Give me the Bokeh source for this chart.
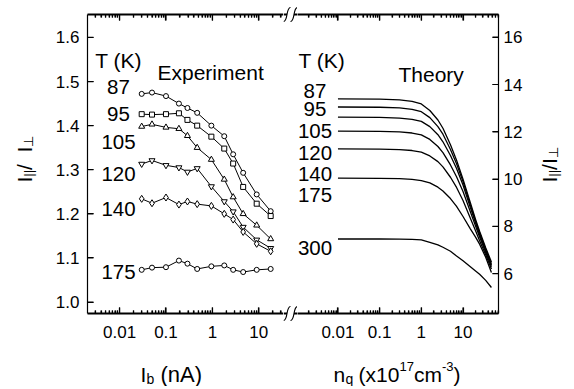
from math import pi, log10
from bokeh.plotting import figure
from bokeh.layouts import row, column
from bokeh.models import (Range1d, LogAxis, FixedTicker, CustomJSTickFormatter,
                          PrintfTickFormatter, Label)
from bokeh.embed import file_html
from bokeh.resources import INLINE

FONT = "Liberation Sans"

# ---------------- data ----------------
# Experiment: beam current I_b (nA) and intensity ratio for each temperature
ib = [0.03, 0.05, 0.1, 0.19, 0.29, 0.47, 0.95, 1.8, 2.8, 4.6, 9.0, 18.0]
exp_87 = [1.472, 1.475, 1.467, 1.450, 1.440, 1.429, 1.400, 1.376, 1.335, 1.293, 1.244, 1.206]
exp_95 = [1.426, 1.425, 1.426, 1.428, 1.413, 1.400, 1.375, 1.348, 1.314, 1.261, 1.223, 1.195]
exp_105 = [1.398, 1.403, 1.396, 1.393, 1.377, 1.350, 1.323, 1.278, 1.238, 1.200, 1.174, 1.143]
exp_120 = [1.313, 1.321, 1.310, 1.305, 1.295, 1.303, 1.262, 1.228, 1.205, 1.170, 1.141, 1.122]
exp_140 = [1.234, 1.224, 1.237, 1.221, 1.228, 1.222, 1.218, 1.200, 1.187, 1.159, 1.132, 1.115]
exp_175 = [1.073, 1.078, 1.079, 1.094, 1.087, 1.075, 1.081, 1.083, 1.073, 1.068, 1.073, 1.075]
exp_temps = ["87", "95", "105", "120", "140", "175"]
exp_markers = ["circle", "square", "triangle", "inverted_triangle", "diamond", "circle"]

# Theory: carrier density n_q (x1e17 cm^-3) and ratio for each temperature
nq = [0.01, 0.1, 0.3, 0.6, 1.0, 1.6, 2.5, 3.3, 5.0, 7.0, 10.0, 15.0, 20.0, 25.0, 35.0, 48.0]
th_87 = [13.39, 13.38, 13.35, 13.29, 13.18, 12.90, 12.50, 12.15, 11.45, 10.80, 10.00, 9.00, 8.30, 7.80, 7.10, 6.50]
th_95 = [13.05, 13.04, 13.01, 12.95, 12.85, 12.60, 12.22, 11.90, 11.25, 10.65, 9.90, 8.90, 8.22, 7.72, 7.02, 6.42]
th_105 = [12.62, 12.61, 12.58, 12.53, 12.44, 12.22, 11.88, 11.58, 11.00, 10.45, 9.75, 8.80, 8.15, 7.65, 6.97, 6.36]
th_120 = [12.03, 12.02, 12.00, 11.95, 11.87, 11.68, 11.38, 11.12, 10.60, 10.10, 9.48, 8.62, 8.02, 7.55, 6.90, 6.30]
th_140 = [11.28, 11.27, 11.25, 11.21, 11.14, 10.98, 10.74, 10.52, 10.08, 9.65, 9.10, 8.35, 7.82, 7.40, 6.80, 6.20]
th_175 = [10.04, 10.03, 10.02, 9.99, 9.94, 9.84, 9.66, 9.50, 9.18, 8.85, 8.42, 7.90, 7.55, 7.25, 6.70, 6.05]
th_300 = [7.47, 7.47, 7.46, 7.45, 7.43, 7.33, 7.22, 7.12, 6.95, 6.75, 6.55, 6.30, 6.12, 5.98, 5.72, 5.42]
th_temps = ["87", "95", "105", "120", "140", "175", "300"]

x_ticks = [0.01, 0.1, 1, 10]
left_y_ticks = [1.0, 1.1, 1.2, 1.3, 1.4, 1.5, 1.6]
right_y_ticks = [6, 8, 10, 12, 14, 16]

# ---------------- layout (page pixels) ----------------
H = 350            # main row height
HX = 36            # x-label strip height
FT, FB = 14, 313   # frame top / bottom
YL_W = 44
P1_L, P1_R = 87, 283
P2_L, P2_R = 297, 498
YR_L = 530
TOTAL_W = 574

minor = [k * 10.0 ** e for e in range(-4, 2) for k in range(2, 10)]
num_fmt = CustomJSTickFormatter(code="return parseFloat(tick.toPrecision(6)).toString();")
blank_fmt = CustomJSTickFormatter(code="return '';")


def no_align(p):
    try:
        p.frame_align = False
    except Exception:
        pass


def style_axis(ax, horizontal, minor_ticks=True):
    ax.axis_line_color = "black"
    ax.axis_line_width = 2 if horizontal else 1.2
    ax.major_tick_line_color = "black"
    ax.major_tick_line_width = 1.2
    ax.major_tick_in = 6
    ax.major_tick_out = 0
    if minor_ticks:
        ax.minor_tick_line_color = "black"
        ax.minor_tick_line_width = 1.2
        ax.minor_tick_in = 3
        ax.minor_tick_out = 0
    else:
        ax.minor_tick_line_color = None
    ax.major_label_text_font = FONT
    ax.major_label_text_font_size = "17px"
    ax.major_label_text_color = "black"


def bare_fig(width, height, xr=None, yr=None):
    p = figure(width=width, height=height, x_range=xr or Range1d(0, 1), y_range=yr or Range1d(0, 1),
               x_axis_location=None, y_axis_location=None, output_backend="svg",
               toolbar_location=None, min_border_left=0, min_border_right=0,
               min_border_top=0, min_border_bottom=0)
    p.xgrid.visible = False
    p.ygrid.visible = False
    p.outline_line_color = None
    no_align(p)
    return p


def make_fig(width, xr, yr, left, right, yloc):
    p = figure(width=width, height=H, x_axis_type="log", x_range=xr, y_range=yr,
               y_axis_location=yloc, output_backend="svg", toolbar_location=None,
               min_border_left=left, min_border_right=right,
               min_border_top=FT, min_border_bottom=H - FB)
    p.xgrid.visible = False
    p.ygrid.visible = False
    p.outline_line_color = None
    no_align(p)
    p.xaxis.ticker = FixedTicker(ticks=x_ticks, minor_ticks=minor)
    p.xaxis.formatter = num_fmt
    style_axis(p.xaxis[0], True)
    p.xaxis.major_label_standoff = 12
    top = LogAxis(ticker=FixedTicker(ticks=x_ticks, minor_ticks=minor), formatter=blank_fmt)
    style_axis(top, True)
    top.major_label_standoff = 0
    p.add_layout(top, "above")
    return p


def inner_ticks(p, frame_w, y_ticks, y_side):
    """Inward tick marks drawn inside the frame, sized in pixels via the ranges."""
    x0, x1 = p.x_range.start, p.x_range.end
    y0, y1 = p.y_range.start, p.y_range.end
    dec_per_px = (log10(x1) - log10(x0)) / frame_w
    y_per_px = (y1 - y0) / (FB - FT)
    xs0, ys0, xs1, ys1 = [], [], [], []
    for t, ln in [(t, 6) for t in x_ticks] + [(m, 3) for m in minor]:
        if x0 < t < x1:
            for yb, sgn in ((y0, 1), (y1, -1)):
                xs0.append(t); xs1.append(t)
                ys0.append(yb); ys1.append(yb + sgn * ln * y_per_px)
    for t in y_ticks:
        if y_side == "left":
            xs0.append(x0); xs1.append(x0 * 10 ** (6 * dec_per_px))
        else:
            xs0.append(x1); xs1.append(x1 / 10 ** (6 * dec_per_px))
        ys0.append(t); ys1.append(t)
    p.segment(x0=xs0, y0=ys0, x1=xs1, y1=ys1, line_color="black", line_width=1.2)


p1 = make_fig(P1_R - YL_W, Range1d(0.00204, 34.0), Range1d(0.974, 1.652),
              P1_L - YL_W, 0, "left")
p1.yaxis.ticker = FixedTicker(ticks=left_y_ticks)
p1.yaxis.formatter = PrintfTickFormatter(format="%.1f")
style_axis(p1.yaxis[0], False, minor_ticks=False)
p1.yaxis.major_label_standoff = 8

p2 = make_fig(YR_L - P2_L, Range1d(0.00107, 71.0), Range1d(4.32, 16.96),
              0, YR_L - P2_R, "right")
p2.yaxis.ticker = FixedTicker(ticks=right_y_ticks)
style_axis(p2.yaxis[0], False, minor_ticks=False)
p2.yaxis.major_label_standoff = 5

inner_ticks(p1, P1_R - P1_L, left_y_ticks, "left")
inner_ticks(p2, P2_R - P2_L, right_y_ticks, "right")

# ---------------- experiment ----------------
msize = {"circle": 5, "square": 5, "triangle": 6, "inverted_triangle": 6, "diamond": 7}
for ys, mk in zip([exp_87, exp_95, exp_105, exp_120, exp_140, exp_175], exp_markers):
    p1.line(ib, ys, line_color="black", line_width=1)
    p1.scatter(ib, ys, marker=mk, size=msize[mk], fill_color="white", line_color="black", line_width=1)

# ---------------- theory ----------------
for ys in [th_87, th_95, th_105, th_120, th_140, th_175, th_300]:
    p2.line(nq, ys, line_color="black", line_width=1.3)


# ---------------- text ----------------
def lab(p, fl, fb, px, py, text, size, align="left", angle=0.0):
    p.add_layout(Label(x=px - fl, y=fb - py, x_units="screen", y_units="screen", text=text,
                       text_font=FONT, text_font_size=f"{size}px", text_align=align,
                       text_baseline="alphabetic", angle=angle, text_color="black"))


# left panel
lab(p1, P1_L, FB, 118, 60, "T (K)", 21, "center")
lab(p1, P1_L, FB, 157, 72, "Experiment", 21)
for t, yb in zip(exp_temps, [86.7, 113.3, 141.7, 173.3, 208.3, 271.7]):
    lab(p1, P1_L, FB, 118, yb, t, 20.5, "center")

# right panel
lab(p2, P2_L, FB, 298, 59.5, "T (K)", 21)
lab(p2, P2_L, FB, 398, 74, "Theory", 21)
for t, yb in zip(th_temps, [90, 108.3, 130.7, 152.7, 173.3, 194, 247.3]):
    lab(p2, P2_L, FB, 314.5, yb, t, 20.5, "center")

# y-axis label strips (rotated)
yl = bare_fig(YL_W, H)
lab(yl, 0, H, 23.5, 182, "I", 21, angle=pi / 2)
lab(yl, 0, H, 27.5, 176.2, "||", 13, angle=pi / 2)
lab(yl, 0, H, 23.5, 169.4, " / ", 21, angle=pi / 2)
lab(yl, 0, H, 23.5, 151.9, "I", 21, angle=pi / 2)
lab(yl, 0, H, 27.5, 146.1, "\u22a5", 13, angle=pi / 2)

yr = bare_fig(TOTAL_W - YR_L, H)
lab(yr, YR_L, H, 549, 182, "I", 21, angle=pi / 2)
lab(yr, YR_L, H, 553, 176.2, "||", 13, angle=pi / 2)
lab(yr, YR_L, H, 549, 169.4, "/", 21, angle=pi / 2)
lab(yr, YR_L, H, 549, 163.6, "I", 21, angle=pi / 2)
lab(yr, YR_L, H, 553, 157.8, "\u22a5", 13, angle=pi / 2)

# axis-break strip (page-pixel coordinates, y downward)
gap = bare_fig(P2_L - P1_R, H, Range1d(P1_R, P2_L), Range1d(H, 0))
for yy in (FT, FB):
    for cx in (286.5, 293.5):
        gap.bezier(x0=[cx - 3.5], y0=[yy + 7], x1=[cx + 3.5], y1=[yy - 7],
                   cx0=[cx + 1.0], cy0=[yy + 7.5], cx1=[cx - 1.0], cy1=[yy - 7.5],
                   line_color="black", line_width=1.2)
    gap.segment(x0=[P1_R, 293.5], y0=[yy, yy], x1=[286.5, P2_L], y1=[yy, yy],
                line_color="black", line_width=2)

# x-axis label strip
xl = bare_fig(TOTAL_W, HX)
XB = H + HX
lab(xl, 0, XB, 140, 374, "I", 21)
lab(xl, 0, XB, 146, 378, "b", 14)
lab(xl, 0, XB, 160, 374, "(nA)", 22)

lab(xl, 0, XB, 333, 374, "n", 21)
lab(xl, 0, XB, 345, 378, "q", 14)
lab(xl, 0, XB, 358, 374, "(x10", 21)
lab(xl, 0, XB, 399, 366, "17", 13)
lab(xl, 0, XB, 413.5, 374, "cm", 21)
lab(xl, 0, XB, 441.5, 366, "-3", 13)
lab(xl, 0, XB, 453, 374, ")", 21)

layout = column(row(yl, p1, gap, p2, yr, spacing=0), xl, spacing=0)
open("out.html", "w").write(file_html(layout, INLINE))
